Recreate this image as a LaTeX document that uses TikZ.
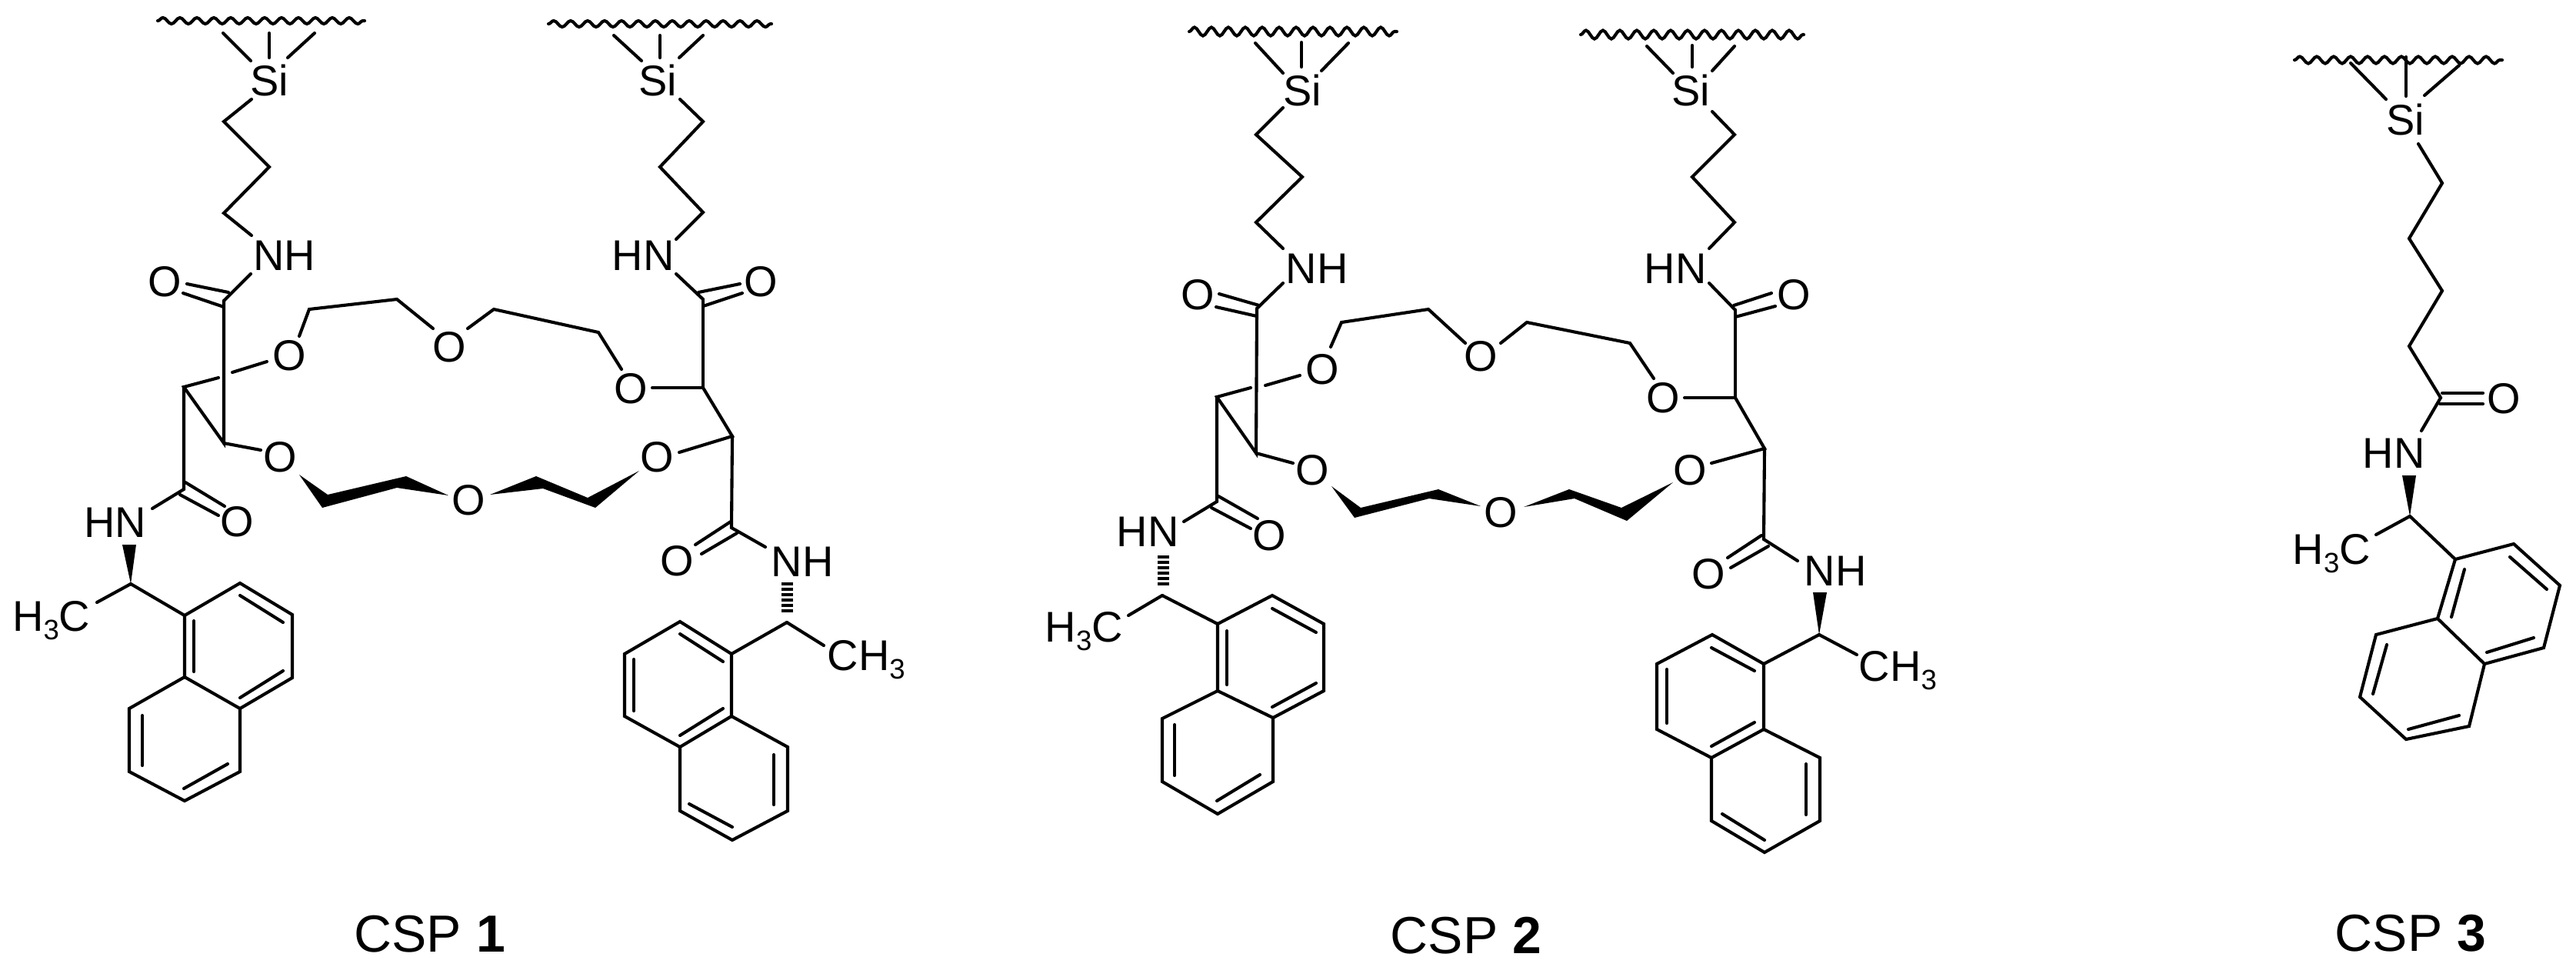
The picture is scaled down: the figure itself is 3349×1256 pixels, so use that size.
\documentclass[tikz,border=0pt]{standalone}
\usepackage{fontspec}
\setmainfont{Liberation Sans}
\usetikzlibrary{decorations.pathmorphing}
\newcommand{\subthree}{\raisebox{-0.11cm}{\fontsize{10.4}{11}\selectfont 3}}
\tikzset{
  bond/.style={line width=0.041cm,line cap=round},
  wedgebond/.style={fill=black,draw=none},
  hashbond/.style={line width=0.145cm,dash pattern=on 0.04cm off 0.03cm},
  surface/.style={bond,decorate,decoration={snake,segment length=0.22cm,amplitude=#1}},
  atom/.style={inner sep=0pt,font=\fontsize{15.9}{16}\selectfont},
  csplabel/.style={inner sep=0pt,anchor=base west,font=\fontsize{19.3}{20}\selectfont}
}
\begin{document}
\begin{tikzpicture}[x=0.01cm,y=-0.01cm]
\useasboundingbox (0,0) rectangle (3349,1256);
% CSP 1, left arm
\begin{scope}
\node[atom] (siA) at (350,104) {Si};
\node[atom] (nhA) at (370,332) {NH};
\node[atom] (oA1) at (214,366) {O};
\node[atom] (oA2) at (376,462) {O};
\node[atom] (oA3) at (584,451) {O};
\node[atom] (oA4) at (364,594) {O};
\node[atom] (oA5) at (609,650) {O};
\node[atom] (oA6) at (308,678) {O};
\node[atom] (nhA2) at (150,679) {HN};
\node[atom,anchor=base west] (meA) at (15.5,820) {H\subthree C};
\coordinate (aw1) at (205,27); \coordinate (aw2) at (474,27);
\coordinate (a1) at (290,43); \coordinate (a2) at (326,79);
\coordinate (a3) at (350,43); \coordinate (a4) at (350,75);
\coordinate (a5) at (409,43); \coordinate (a6) at (374,75);
\coordinate (a7) at (327,129); \coordinate (a8) at (291,158);
\coordinate (a9) at (350,217); \coordinate (a10) at (291,277);
\coordinate (a11) at (327,306); \coordinate (a12) at (326,356);
\coordinate (a13) at (291,391); \coordinate (a14) at (243,369);
\coordinate (a15) at (297,380); \coordinate (a16) at (238,381);
\coordinate (a17) at (291,399); \coordinate (a18) at (291,576);
\coordinate (a19) at (239,503); \coordinate (a20) at (284,491);
\coordinate (a21) at (302,484); \coordinate (a22) at (347,470);
\coordinate (a23) at (389,437); \coordinate (a24) at (402,402);
\coordinate (a25) at (516,389); \coordinate (a26) at (563,427);
\coordinate (a27) at (339,585); \coordinate (a28) at (239,636);
\coordinate (a29) at (241,627); \coordinate (a30) at (292,658);
\coordinate (a31) at (234,643); \coordinate (a32) at (284,670);
\coordinate (a33) at (198,661); \coordinate (a34) at (170,759);
\coordinate (a35) at (159,708); \coordinate (a36) at (177,708);
\coordinate (a37) at (126,783);
\draw[surface=0.04cm] (aw1) -- (aw2);
\draw[bond] (a1) -- (a2);
\draw[bond] (a3) -- (a4);
\draw[bond] (a5) -- (a6);
\draw[bond] (a7) -- (a8) -- (a9) -- (a10) -- (a11);
\draw[bond] (a12) -- (a13);
\draw[bond] (a14) -- (a15);
\draw[bond] (a16) -- (a17);
\draw[bond] (a13) -- (a18) -- (a19) -- (a20);
\draw[bond] (a21) -- (a22);
\draw[bond] (a23) -- (a24) -- (a25) -- (a26);
\draw[bond] (a18) -- (a27);
\draw[bond] (a19) -- (a28) -- (a33);
\draw[bond] (a29) -- (a30);
\draw[bond] (a31) -- (a32);
\fill[wedgebond] (a35) -- (a36) -- (a34) -- cycle;
\draw[bond] (a37) -- (a34);
% naphthyl
\coordinate (ar1) at (240,800); \coordinate (ar2) at (312,758);
\coordinate (ar3) at (380,799); \coordinate (ar4) at (380,881);
\coordinate (ar5) at (312,921); \coordinate (ar6) at (240,880);
\coordinate (ar7) at (168,921); \coordinate (ar8) at (168,1003);
\coordinate (ar9) at (240,1041); \coordinate (ar10) at (312,1003);
\coordinate (ai1) at (252,807); \coordinate (ai2) at (252,873);
\coordinate (ai3) at (312,774); \coordinate (ai4) at (368,809);
\coordinate (ai5) at (312,907); \coordinate (ai6) at (368,872);
\coordinate (ai7) at (185,930); \coordinate (ai8) at (185,995);
\coordinate (ai9) at (239,1025); \coordinate (ai10) at (296,993);
\draw[bond] (a34) -- (ar1);
\draw[bond] (ar1) -- (ar2) -- (ar3) -- (ar4) -- (ar5) -- (ar6) -- cycle;
\draw[bond] (ar6) -- (ar7) -- (ar8) -- (ar9) -- (ar10) -- (ar5);
\draw[bond] (ai1) -- (ai2);
\draw[bond] (ai3) -- (ai4);
\draw[bond] (ai5) -- (ai6);
\draw[bond] (ai7) -- (ai8);
\draw[bond] (ai9) -- (ai10);
\end{scope}
%
% CSP 1, right arm
\begin{scope}
\node[atom] (siB) at (855,104) {Si};
\node[atom] (nhB) at (836,332) {HN};
\node[atom] (oB1) at (989,366) {O};
\node[atom] (oB2) at (820,505) {O};
\node[atom] (oB3) at (854,594) {O};
\node[atom] (oB4) at (880,729) {O};
\node[atom] (nhB2) at (1043,730) {NH};
\node[atom,anchor=base west] (meB) at (1075,871) {CH\subthree};
\coordinate (bw1) at (713,31); \coordinate (bw2) at (1003,31);
\coordinate (b1) at (798,46); \coordinate (b2) at (834,79);
\coordinate (b3) at (858,46); \coordinate (b4) at (858,75);
\coordinate (b5) at (914,46); \coordinate (b6) at (883,75);
\coordinate (b7) at (884,129); \coordinate (b8) at (914,158);
\coordinate (b9) at (858,217); \coordinate (b10) at (914,276);
\coordinate (b11) at (879,311); \coordinate (b12) at (879,356);
\coordinate (b13) at (914,389); \coordinate (b14) at (908,380);
\coordinate (b15) at (962,369); \coordinate (b16) at (914,398);
\coordinate (b17) at (965,381); \coordinate (b18) at (914,504);
\coordinate (b19) at (848,504); \coordinate (b20) at (808,480);
\coordinate (b21) at (778,432); \coordinate (b22) at (642,402);
\coordinate (b23) at (608,427); \coordinate (b24) at (952,567);
\coordinate (b25) at (883,588); \coordinate (b26) at (951,686);
\coordinate (b27) at (904,708); \coordinate (b28) at (950,678);
\coordinate (b29) at (912,720); \coordinate (b30) at (958,693);
\coordinate (b31) at (995,711); \coordinate (b32) at (1023.5,757);
\coordinate (b33) at (1023.5,798); \coordinate (b34) at (1023,809);
\coordinate (b35) at (1071,839);
\draw[surface=0.04cm] (bw1) -- (bw2);
\draw[bond] (b1) -- (b2);
\draw[bond] (b3) -- (b4);
\draw[bond] (b5) -- (b6);
\draw[bond] (b7) -- (b8) -- (b9) -- (b10) -- (b11);
\draw[bond] (b12) -- (b13);
\draw[bond] (b14) -- (b15);
\draw[bond] (b16) -- (b17);
\draw[bond] (b13) -- (b18) -- (b19);
\draw[bond] (b20) -- (b21) -- (b22) -- (b23);
\draw[bond] (b18) -- (b24) -- (b25);
\draw[bond] (b24) -- (b26) -- (b31);
\draw[bond] (b27) -- (b28);
\draw[bond] (b29) -- (b30);
\draw[hashbond] (b32) -- (b33);
\draw[bond] (b34) -- (b35);
% naphthyl
\coordinate (br1) at (951,850); \coordinate (br2) at (884,808);
\coordinate (br3) at (812,850); \coordinate (br4) at (812,931);
\coordinate (br5) at (884,971); \coordinate (br6) at (951,931);
\coordinate (br7) at (1024,971); \coordinate (br8) at (1024,1054);
\coordinate (br9) at (952,1092); \coordinate (br10) at (884,1054);
\coordinate (bi1) at (884,824); \coordinate (bi2) at (940,860);
\coordinate (bi3) at (824,857); \coordinate (bi4) at (824,924);
\coordinate (bi5) at (884,956); \coordinate (bi6) at (940,921);
\coordinate (bi7) at (1006,981); \coordinate (bi8) at (1006,1046);
\coordinate (bi9) at (896,1045); \coordinate (bi10) at (952,1075);
\draw[bond] (b34) -- (br1);
\draw[bond] (br1) -- (br2) -- (br3) -- (br4) -- (br5) -- (br6) -- cycle;
\draw[bond] (br6) -- (br7) -- (br8) -- (br9) -- (br10) -- (br5);
\draw[bond] (bi1) -- (bi2);
\draw[bond] (bi3) -- (bi4);
\draw[bond] (bi5) -- (bi6);
\draw[bond] (bi7) -- (bi8);
\draw[bond] (bi9) -- (bi10);
\end{scope}
%
% CSP 1, thick part of the ring
\coordinate (t1) at (389,617); \coordinate (t2) at (426,643);
\coordinate (t3) at (528,619); \coordinate (t4) at (583,644);
\coordinate (t5) at (516,634); \coordinate (t6) at (419,660);
\coordinate (t7) at (637,643); \coordinate (t8) at (697,619);
\coordinate (t9) at (764,647); \coordinate (t10) at (831,612);
\coordinate (t11) at (774,660); \coordinate (t12) at (706,635);
\fill[wedgebond] (t1) -- (t2) -- (t3) -- (t4) -- (t5) -- (t6) -- cycle;
\fill[wedgebond] (t7) -- (t8) -- (t9) -- (t10) -- (t11) -- (t12) -- cycle;
\node[csplabel] (labA) at (460,1237) {CSP \textbf{1}};
%
% CSP 2, left arm
\begin{scope}
\node[atom] (siC) at (1693,117) {Si};
\node[atom] (nhC) at (1712,349) {NH};
\node[atom] (oC1) at (1557,383) {O};
\node[atom] (oC2) at (1719,480) {O};
\node[atom] (oC3) at (1925,463) {O};
\node[atom] (oC4) at (1706,611) {O};
\node[atom] (oC5) at (1951,666) {O};
\node[atom] (oC6) at (1650,696) {O};
\node[atom] (nhC2) at (1492,691) {HN};
\node[atom,anchor=base west] (meC) at (1358,834) {H\subthree C};
\coordinate (cw1) at (1546,41); \coordinate (cw2) at (1816,41);
\coordinate (c1) at (1632,56); \coordinate (c2) at (1668,95);
\coordinate (c3) at (1692,55); \coordinate (c4) at (1692,87);
\coordinate (c5) at (1753,56); \coordinate (c6) at (1718,92);
\coordinate (c7) at (1668,140); \coordinate (c8) at (1633,175);
\coordinate (c9) at (1693,230); \coordinate (c10) at (1633,289);
\coordinate (c11) at (1668,323); \coordinate (c12) at (1668,368);
\coordinate (c13) at (1634,401); \coordinate (c14) at (1585,382);
\coordinate (c15) at (1637,397); \coordinate (c16) at (1581,399);
\coordinate (c17) at (1634,411); \coordinate (c18) at (1633,589);
\coordinate (c19) at (1582,516); \coordinate (c20) at (1626,504);
\coordinate (c21) at (1645,501); \coordinate (c22) at (1690,488);
\coordinate (c23) at (1730,451); \coordinate (c24) at (1744,419);
\coordinate (c25) at (1857,402); \coordinate (c26) at (1905,446);
\coordinate (c27) at (1681,602); \coordinate (c28) at (1582,652);
\coordinate (c29) at (1584,645); \coordinate (c30) at (1635,674);
\coordinate (c31) at (1575,660); \coordinate (c32) at (1626,687);
\coordinate (c33) at (1539,678); \coordinate (c34) at (1512.5,722);
\coordinate (c35) at (1512.5,761); \coordinate (c36) at (1511,774);
\coordinate (c37) at (1467,800);
\draw[surface=0.055cm] (cw1) -- (cw2);
\draw[bond] (c1) -- (c2);
\draw[bond] (c3) -- (c4);
\draw[bond] (c5) -- (c6);
\draw[bond] (c7) -- (c8) -- (c9) -- (c10) -- (c11);
\draw[bond] (c12) -- (c13);
\draw[bond] (c14) -- (c15);
\draw[bond] (c16) -- (c17);
\draw[bond] (c13) -- (c18) -- (c19) -- (c20);
\draw[bond] (c21) -- (c22);
\draw[bond] (c23) -- (c24) -- (c25) -- (c26);
\draw[bond] (c18) -- (c27);
\draw[bond] (c19) -- (c28) -- (c33);
\draw[bond] (c29) -- (c30);
\draw[bond] (c31) -- (c32);
\draw[hashbond] (c34) -- (c35);
\draw[bond] (c37) -- (c36);
% naphthyl
\coordinate (cr1) at (1583,811); \coordinate (cr2) at (1654,774);
\coordinate (cr3) at (1721,811); \coordinate (cr4) at (1721,898);
\coordinate (cr5) at (1655,933); \coordinate (cr6) at (1583,898);
\coordinate (cr7) at (1511,934); \coordinate (cr8) at (1511,1016);
\coordinate (cr9) at (1583,1058); \coordinate (cr10) at (1655,1016);
\coordinate (ci1) at (1595,820); \coordinate (ci2) at (1595,890);
\coordinate (ci3) at (1654,791); \coordinate (ci4) at (1711,822);
\coordinate (ci5) at (1654,919); \coordinate (ci6) at (1711,888);
\coordinate (ci7) at (1527,942); \coordinate (ci8) at (1527,1008);
\coordinate (ci9) at (1582,1041); \coordinate (ci10) at (1638,1007);
\draw[bond] (c36) -- (cr1);
\draw[bond] (cr1) -- (cr2) -- (cr3) -- (cr4) -- (cr5) -- (cr6) -- cycle;
\draw[bond] (cr6) -- (cr7) -- (cr8) -- (cr9) -- (cr10) -- (cr5);
\draw[bond] (ci1) -- (ci2);
\draw[bond] (ci3) -- (ci4);
\draw[bond] (ci5) -- (ci6);
\draw[bond] (ci7) -- (ci8);
\draw[bond] (ci9) -- (ci10);
\end{scope}
%
% CSP 2, right arm
\begin{scope}
\node[atom] (siD) at (2198,117) {Si};
\node[atom] (nhD) at (2178,349) {HN};
\node[atom] (oD1) at (2332,383) {O};
\node[atom] (oD2) at (2162,517) {O};
\node[atom] (oD3) at (2197,611) {O};
\node[atom] (oD4) at (2221,746) {O};
\node[atom] (nhD2) at (2386,742) {NH};
\node[atom,anchor=base west] (meD) at (2416,885) {CH\subthree};
\coordinate (dw1) at (2055,45); \coordinate (dw2) at (2345,45);
\coordinate (d1) at (2141,60); \coordinate (d2) at (2175,95);
\coordinate (d3) at (2200,59); \coordinate (d4) at (2200,87);
\coordinate (d5) at (2255,60); \coordinate (d6) at (2226,92);
\coordinate (d7) at (2226,145); \coordinate (d8) at (2255,175);
\coordinate (d9) at (2200,230); \coordinate (d10) at (2255,289);
\coordinate (d11) at (2222,323); \coordinate (d12) at (2222,368);
\coordinate (d13) at (2256,403); \coordinate (d14) at (2254,397);
\coordinate (d15) at (2303,381); \coordinate (d16) at (2256,412);
\coordinate (d17) at (2308,398); \coordinate (d18) at (2256,517);
\coordinate (d19) at (2190,517); \coordinate (d20) at (2150,492);
\coordinate (d21) at (2119,446); \coordinate (d22) at (1985,419);
\coordinate (d23) at (1951,446); \coordinate (d24) at (2294,583);
\coordinate (d25) at (2225,602); \coordinate (d26) at (2293,701);
\coordinate (d27) at (2246,725); \coordinate (d28) at (2290,696);
\coordinate (d29) at (2250,738); \coordinate (d30) at (2299,710);
\coordinate (d31) at (2337,729); \coordinate (d32) at (2357,770);
\coordinate (d33) at (2375,770); \coordinate (d34) at (2365,825);
\coordinate (d35) at (2414,851);
\draw[surface=0.055cm] (dw1) -- (dw2);
\draw[bond] (d1) -- (d2);
\draw[bond] (d3) -- (d4);
\draw[bond] (d5) -- (d6);
\draw[bond] (d7) -- (d8) -- (d9) -- (d10) -- (d11);
\draw[bond] (d12) -- (d13);
\draw[bond] (d14) -- (d15);
\draw[bond] (d16) -- (d17);
\draw[bond] (d13) -- (d18) -- (d19);
\draw[bond] (d20) -- (d21) -- (d22) -- (d23);
\draw[bond] (d18) -- (d24) -- (d25);
\draw[bond] (d24) -- (d26) -- (d31);
\draw[bond] (d27) -- (d28);
\draw[bond] (d29) -- (d30);
\fill[wedgebond] (d32) -- (d33) -- (d34) -- cycle;
\draw[bond] (d34) -- (d35);
% naphthyl
\coordinate (dr1) at (2293,863); \coordinate (dr2) at (2226,825);
\coordinate (dr3) at (2154,863); \coordinate (dr4) at (2154,948);
\coordinate (dr5) at (2225,985); \coordinate (dr6) at (2293,948);
\coordinate (dr7) at (2366,985); \coordinate (dr8) at (2366,1067);
\coordinate (dr9) at (2294,1108); \coordinate (dr10) at (2225,1067);
\coordinate (di1) at (2225,842); \coordinate (di2) at (2281,872);
\coordinate (di3) at (2167,870); \coordinate (di4) at (2167,940);
\coordinate (di5) at (2225,970); \coordinate (di6) at (2281,939);
\coordinate (di7) at (2348,993); \coordinate (di8) at (2348,1059);
\coordinate (di9) at (2239,1058); \coordinate (di10) at (2294,1092);
\draw[bond] (d34) -- (dr1);
\draw[bond] (dr1) -- (dr2) -- (dr3) -- (dr4) -- (dr5) -- (dr6) -- cycle;
\draw[bond] (dr6) -- (dr7) -- (dr8) -- (dr9) -- (dr10) -- (dr5);
\draw[bond] (di1) -- (di2);
\draw[bond] (di3) -- (di4);
\draw[bond] (di5) -- (di6);
\draw[bond] (di7) -- (di8);
\draw[bond] (di9) -- (di10);
\end{scope}
%
% CSP 2, thick part of the ring
\coordinate (u1) at (1731,632); \coordinate (u2) at (1769,660);
\coordinate (u3) at (1870,636); \coordinate (u4) at (1925,658);
\coordinate (u5) at (1858,648); \coordinate (u6) at (1761,673);
\coordinate (u7) at (1981,659); \coordinate (u8) at (2040,636);
\coordinate (u9) at (2108,660); \coordinate (u10) at (2175,627);
\coordinate (u11) at (2115,677); \coordinate (u12) at (2047,648);
\fill[wedgebond] (u1) -- (u2) -- (u3) -- (u4) -- (u5) -- (u6) -- cycle;
\fill[wedgebond] (u7) -- (u8) -- (u9) -- (u10) -- (u11) -- (u12) -- cycle;
\node[csplabel] (labB) at (1807,1239) {CSP \textbf{2}};
%
% CSP 3
\begin{scope}
\node[atom] (siE) at (3127,155) {Si};
\node[atom] (oE1) at (3255,518) {O};
\node[atom] (nhE) at (3112,589) {HN};
\node[atom,anchor=base west] (meE) at (2980,733) {H\subthree C};
\coordinate (ew1) at (2983,78); \coordinate (ew2) at (3253,78);
\coordinate (e1) at (3056,82); \coordinate (e2) at (3102,129);
\coordinate (e3) at (3128,74); \coordinate (e4) at (3128,125);
\coordinate (e5) at (3197,85); \coordinate (e6) at (3152,124);
\coordinate (e7) at (3144,187); \coordinate (e8) at (3175,238);
\coordinate (e9) at (3132,310); \coordinate (e10) at (3175,378);
\coordinate (e11) at (3132,450); \coordinate (e12) at (3173,517);
\coordinate (e13) at (3175,511); \coordinate (e14) at (3228,511);
\coordinate (e15) at (3172,525); \coordinate (e16) at (3228,525);
\coordinate (e17) at (3148,560); \coordinate (e18) at (3123,618);
\coordinate (e19) at (3141,618); \coordinate (e20) at (3133,671);
\coordinate (e21) at (3089,695);
\draw[surface=0.045cm] (ew1) -- (ew2);
\draw[bond] (e1) -- (e2);
\draw[bond] (e3) -- (e4);
\draw[bond] (e5) -- (e6);
\draw[bond] (e7) -- (e8) -- (e9) -- (e10) -- (e11) -- (e12) -- (e17);
\draw[bond] (e13) -- (e14);
\draw[bond] (e15) -- (e16);
\fill[wedgebond] (e18) -- (e19) -- (e20) -- cycle;
\draw[bond] (e21) -- (e20);
% naphthyl
\coordinate (er1) at (3192,727); \coordinate (er2) at (3268,707);
\coordinate (er3) at (3328,761); \coordinate (er4) at (3307,842);
\coordinate (er5) at (3230,863); \coordinate (er6) at (3169,804);
\coordinate (er7) at (3089,825); \coordinate (er8) at (3068,906);
\coordinate (er9) at (3128,961); \coordinate (er10) at (3210,944);
\coordinate (ei1) at (3204,740); \coordinate (ei2) at (3187,802);
\coordinate (ei3) at (3263,724); \coordinate (ei4) at (3311,766);
\coordinate (ei5) at (3294,829); \coordinate (ei6) at (3233,848);
\coordinate (ei7) at (3103,838); \coordinate (ei8) at (3085,902);
\coordinate (ei9) at (3131,948); \coordinate (ei10) at (3197,930);
\draw[bond] (e20) -- (er1);
\draw[bond] (er1) -- (er2) -- (er3) -- (er4) -- (er5) -- (er6) -- cycle;
\draw[bond] (er6) -- (er7) -- (er8) -- (er9) -- (er10) -- (er5);
\draw[bond] (ei1) -- (ei2);
\draw[bond] (ei3) -- (ei4);
\draw[bond] (ei5) -- (ei6);
\draw[bond] (ei7) -- (ei8);
\draw[bond] (ei9) -- (ei10);
\end{scope}
\node[csplabel] (labC) at (3035,1236) {CSP \textbf{3}};
\end{tikzpicture}
\end{document}
